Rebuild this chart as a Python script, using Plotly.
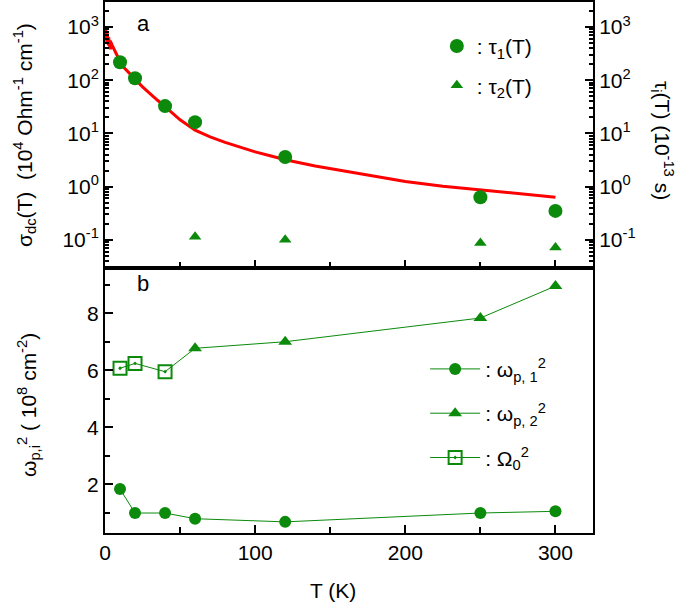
import plotly.graph_objects as go

# ---------------- data ----------------
# panel a: dc conductivity (red curve)
T_sigma = [0.5, 0.75, 1, 1.25, 1.5, 1.75, 2, 2.25, 2.5, 2.75, 3, 3.25, 3.5, 3.75, 4,
           4.5, 5, 5.5, 6, 6.5, 7, 7.5, 8, 8.5, 9,
           10, 12, 15, 20, 25, 30, 35, 40, 50, 60, 70, 80, 90, 100, 110, 120,
           140, 160, 180, 200, 225, 250, 275, 300]
sigma_dc = [900, 560, 820, 520, 760, 480, 700, 450, 640, 420, 600, 400, 560, 380, 520,
            470, 440, 410, 370, 350, 320, 300, 280, 265, 250,
            225, 180, 145, 105, 75, 55, 42, 32, 18, 11.5, 8.6, 6.8, 5.5, 4.5, 3.8, 3.2,
            2.45, 1.95, 1.55, 1.25, 1.02, 0.86, 0.73, 0.63]

# panel a: relaxation times
T_tau1 = [10, 20, 40, 60, 120, 250, 300]
tau1 = [218, 109, 32.6, 16.3, 3.6, 0.63, 0.35]
T_tau2 = [60, 120, 250, 300]
tau2 = [0.114, 0.100, 0.087, 0.072]

# panel b: plasma frequencies squared
T_wp1 = [10, 20, 40, 60, 120, 250, 300]
wp1 = [1.84, 1.0, 1.0, 0.80, 0.69, 1.0, 1.06]
T_wp2 = [60, 120, 250, 300]
wp2 = [6.77, 7.0, 7.83, 8.95]
T_om = [10, 20, 40]
om0 = [6.07, 6.24, 5.95]

log_tick_vals = [0.1, 1, 10, 100, 1000]
log_tick_text = ["10<sup>-1</sup>", "10<sup>0</sup>", "10<sup>1</sup>", "10<sup>2</sup>", "10<sup>3</sup>"]

GREEN = "#0b8a0b"
FONT = "Arial, Liberation Sans, sans-serif"

fig = go.Figure()

# red curve
fig.add_trace(go.Scatter(x=T_sigma, y=sigma_dc, mode="lines", xaxis="x2", yaxis="y",
                         line=dict(color="#ff0000", width=3), showlegend=False))
# tau traces
fig.add_trace(go.Scatter(x=T_tau1, y=tau1, mode="markers", xaxis="x2", yaxis="y3",
                         marker=dict(symbol="circle", size=14, color=GREEN),
                         name=": τ<sub>1</sub>(T)", legend="legend", legendgroup="t1"))
fig.add_trace(go.Scatter(x=T_tau2, y=tau2, mode="markers", xaxis="x2", yaxis="y3",
                         marker=dict(symbol="triangle-up", size=11, color=GREEN),
                         name=": τ<sub>2</sub>(T)", legend="legend", legendgroup="t2"))

# panel b
fig.add_trace(go.Scatter(x=[T_om[-1], T_wp2[0]], y=[om0[-1], wp2[0]], mode="lines",
                         xaxis="x", yaxis="y2", line=dict(color=GREEN, width=1),
                         showlegend=False))
fig.add_trace(go.Scatter(x=T_wp1, y=wp1, mode="lines+markers", xaxis="x", yaxis="y2",
                         line=dict(color=GREEN, width=1),
                         marker=dict(symbol="circle", size=12, color=GREEN),
                         name=": ω<sub>p, 1</sub><sup>2</sup>", legend="legend2",
                         legendgroup="w1"))
fig.add_trace(go.Scatter(x=T_wp2, y=wp2, mode="lines+markers", xaxis="x", yaxis="y2",
                         line=dict(color=GREEN, width=1),
                         marker=dict(symbol="triangle-up", size=12, color=GREEN),
                         name=": ω<sub>p, 2</sub><sup>2</sup>", legend="legend2",
                         legendgroup="w2"))
fig.add_trace(go.Scatter(x=T_om, y=om0, mode="lines+markers", xaxis="x", yaxis="y2",
                         line=dict(color=GREEN, width=1),
                         marker=dict(symbol="square-open-dot", size=13, color=GREEN,
                                     line=dict(width=2, color=GREEN)),
                         name=": Ω<sub>0</sub><sup>2</sup>", legend="legend2",
                         legendgroup="om"))

axis_common = dict(showline=True, linecolor="black", linewidth=2, ticks="inside",
                   tickcolor="black", tickwidth=2, ticklen=8, showgrid=False, zeroline=False,
                   automargin=False,
                   tickfont=dict(size=21, color="black", family=FONT))

minor_log = [m * 10 ** e for e in range(-2, 4) for m in range(2, 10)]

# pixel helpers for placing text
L, R, T, B = 105, 92, 2, 74
plot_w = 685 - L - R
plot_h = 607 - T - B
def px_x(px):
    return (px - L) / plot_w
def px_y(py):
    return 1 - (py - T) / plot_h

fig.update_layout(
    width=685, height=607,
    margin=dict(l=L, r=R, t=T, b=B, autoexpand=False),
    paper_bgcolor="white", plot_bgcolor="white",
    font=dict(family=FONT, size=21, color="black"),
    xaxis=dict(axis_common, domain=[0, 1], anchor="y2", range=[0, 325],
               tickvals=[0, 100, 200, 300], mirror=True,
               minor=dict(tickvals=[50, 150, 250], ticks="inside", ticklen=6,
                          tickwidth=2, tickcolor="black")),
    xaxis2=dict(axis_common, domain=[0, 1], anchor="y", matches="x", range=[0, 325],
                tickvals=[0, 100, 200, 300], showticklabels=False, mirror=True,
                minor=dict(tickvals=[50, 150, 250], ticks="inside", ticklen=6,
                           tickwidth=2, tickcolor="black")),
    yaxis=dict(axis_common, domain=[0.5, 1], anchor="x2", type="log", range=[-1.52, 3.47],
               tickvals=log_tick_vals, ticktext=log_tick_text,
               minor=dict(tickvals=minor_log, ticks="inside", ticklen=4,
                          tickwidth=1.5, tickcolor="black")),
    yaxis3=dict(axis_common, overlaying="y", side="right", anchor="x2", type="log",
                range=[-1.52, 3.47], tickvals=log_tick_vals, ticktext=log_tick_text,
                minor=dict(tickvals=minor_log, ticks="inside", ticklen=4,
                           tickwidth=1.5, tickcolor="black")),
    yaxis2=dict(axis_common, domain=[0, 0.5], anchor="x", range=[0.3, 9.6],
                tickvals=[2, 4, 6, 8], mirror=True,
                minor=dict(tickvals=[1, 3, 5, 7, 9], ticks="inside", ticklen=5,
                           tickwidth=2, tickcolor="black")),
    legend=dict(x=0.68, y=0.955, xanchor="left", yanchor="top", bgcolor="rgba(0,0,0,0)",
                font=dict(size=21, family=FONT), itemwidth=30,
                traceorder="grouped", tracegroupgap=9),
    legend2=dict(x=0.656, y=0.347, xanchor="left", yanchor="top", bgcolor="rgba(0,0,0,0)",
                 font=dict(size=21, family=FONT), itemwidth=50,
                 traceorder="grouped", tracegroupgap=14),
    annotations=[
        dict(text="a", x=px_x(143), y=px_y(24), xref="paper", yref="paper",
             showarrow=False, xanchor="center", yanchor="middle", font=dict(size=22)),
        dict(text="b", x=px_x(143), y=px_y(283), xref="paper", yref="paper",
             showarrow=False, xanchor="center", yanchor="middle", font=dict(size=22)),
        dict(text="T (K)", x=px_x(333), y=px_y(590), xref="paper", yref="paper",
             showarrow=False, xanchor="center", yanchor="middle", font=dict(size=21)),
        dict(text="σ<sub>dc</sub>(T)  (10<sup>4</sup> Ohm<sup>-1</sup> cm<sup>-1</sup>)",
             x=px_x(25), y=px_y(135), xref="paper", yref="paper", showarrow=False,
             textangle=-90, xanchor="center", yanchor="middle", font=dict(size=21)),
        dict(text="ω<sub>p,i</sub><sup>2</sup> ( 10<sup>8</sup> cm<sup>-2</sup>)",
             x=px_x(28), y=px_y(405), xref="paper", yref="paper", showarrow=False,
             textangle=-90, xanchor="center", yanchor="middle", font=dict(size=21)),
        dict(text="τ<sub>i</sub>(T) (10<sup>-13</sup> s)",
             x=px_x(663), y=px_y(140), xref="paper", yref="paper", showarrow=False,
             textangle=90, xanchor="center", yanchor="middle", font=dict(size=21)),
    ],
)

fig.write_html("out.html", config={"displayModeBar": False},
               post_script="document.body.style.margin='0px';")
